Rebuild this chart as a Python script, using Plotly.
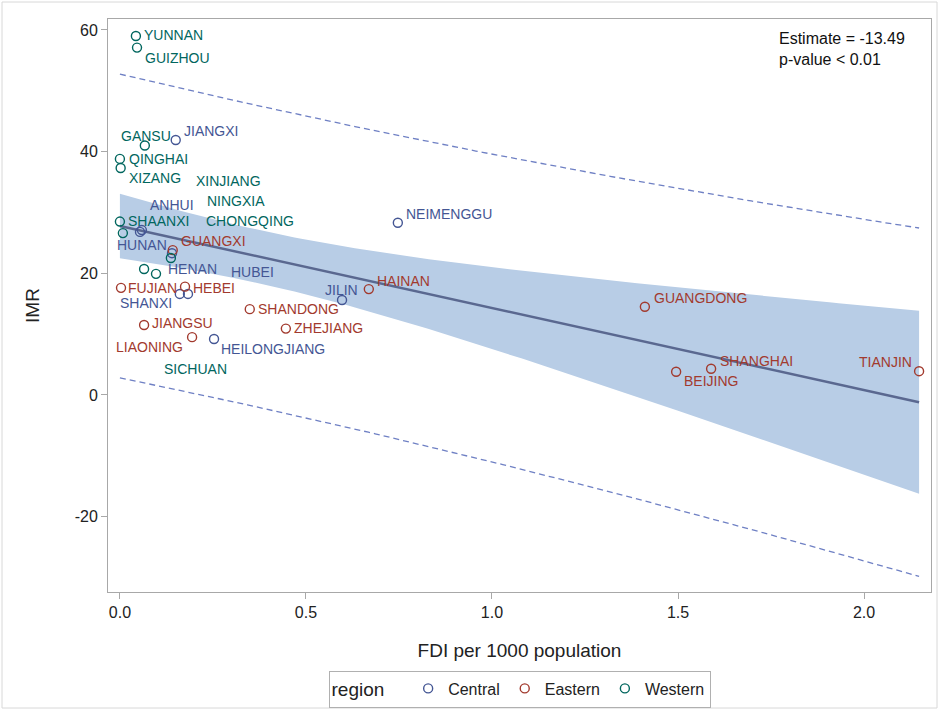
import numpy as np
import plotly.graph_objects as go

# Infant mortality rate vs. foreign direct investment, Chinese provinces
central_names = ["JIANGXI", "ANHUI", "HUNAN", "HENAN", "HUBEI", "SHANXI",
                 "HEILONGJIANG", "JILIN", "NEIMENGGU"]
central_fdi = [0.150, 0.059, 0.054, 0.140, 0.183, 0.161, 0.253, 0.597, 0.747]
central_imr = [41.9, 27.1, 26.8, 23.3, 16.6, 16.6, 9.2, 15.6, 28.3]

eastern_names = ["GUANGXI", "FUJIAN", "HEBEI", "JIANGSU", "LIAONING", "SHANDONG",
                 "ZHEJIANG", "HAINAN", "GUANGDONG", "BEIJING", "SHANGHAI", "TIANJIN"]
eastern_fdi = [0.142, 0.003, 0.175, 0.065, 0.194, 0.349,
               0.446, 0.669, 1.411, 1.495, 1.589, 2.148]
eastern_imr = [23.8, 17.6, 17.8, 11.5, 9.5, 14.1,
               10.9, 17.4, 14.5, 3.8, 4.3, 3.9]

western_names = ["YUNNAN", "GUIZHOU", "GANSU", "QINGHAI", "XIZANG", "SHAANXI",
                 "XINJIANG", "CHONGQING", "NINGXIA", "SICHUAN"]
western_fdi = [0.043, 0.046, 0.067, 0.000, 0.002, 0.000,
               0.008, 0.137, 0.065, 0.097]
western_imr = [59.0, 57.1, 41.0, 38.8, 37.3, 28.5,
               26.6, 22.5, 20.7, 19.9]

x_ticks = [0.0, 0.5, 1.0, 1.5, 2.0]
x_tick_labels = ["0.0", "0.5", "1.0", "1.5", "2.0"]
y_ticks = [-20, 0, 20, 40, 60]
y_tick_labels = ["-20", "0", "20", "40", "60"]

slope_estimate = -13.49
p_value_text = "p-value &lt; 0.01"
t_crit = 2.045  # t(0.975, df=29)

# Label offsets (pixels) relative to each marker: (xshift, yshift)
label_offsets = {
    "YUNNAN": (6, 1), "GUIZHOU": (6, -10), "GANSU": (-26, 10), "JIANGXI": (6, 9),
    "QINGHAI": (7, 0), "XIZANG": (6, -10), "XINJIANG": (71, 52), "ANHUI": (6, 25),
    "NINGXIA": (61, 68), "SHAANXI": (6, 1), "CHONGQING": (33, 37), "HUNAN": (-25, -13),
    "GUANGXI": (6, 9), "HENAN": (-6, -16), "HUBEI": (41, 22), "FUJIAN": (5, 0),
    "HEBEI": (6, -1), "SHANXI": (-62, -9), "JIANGSU": (6, 2), "LIAONING": (-78, -10),
    "HEILONGJIANG": (5, -10), "SICHUAN": (6, -95), "SHANDONG": (6, 0),
    "ZHEJIANG": (6, 1), "JILIN": (-19, 10), "HAINAN": (6, 8), "NEIMENGGU": (6, 9),
    "GUANGDONG": (7, 9), "SHANGHAI": (7, 8), "BEIJING": (6, -9), "TIANJIN": (-62, 9),
}

groups = [
    ("Central", central_names, central_fdi, central_imr, "#445694"),
    ("Eastern", eastern_names, eastern_fdi, eastern_imr, "#A23A2E"),
    ("Western", western_names, western_fdi, western_imr, "#01665E"),
]

# Regression line with confidence and prediction limits
x_all = np.array(central_fdi + eastern_fdi + western_fdi)
y_all = np.array(central_imr + eastern_imr + western_imr)
n = len(x_all)
xbar, ybar = x_all.mean(), y_all.mean()
intercept = ybar - slope_estimate * xbar
resid = y_all - (intercept + slope_estimate * x_all)
s = np.sqrt((resid ** 2).sum() / (n - 2))
sxx = ((x_all - xbar) ** 2).sum()

xg = np.linspace(x_all.min(), x_all.max(), 120)
yg = intercept + slope_estimate * xg
se_mean = s * np.sqrt(1 / n + (xg - xbar) ** 2 / sxx)
se_pred = s * np.sqrt(1 + 1 / n + (xg - xbar) ** 2 / sxx)

fig = go.Figure()

fig.add_trace(go.Scatter(
    x=np.concatenate([xg, xg[::-1]]),
    y=np.concatenate([yg + t_crit * se_mean, (yg - t_crit * se_mean)[::-1]]),
    fill="toself", fillcolor="#b8cde6", line=dict(width=0),
    mode="lines", showlegend=False, hoverinfo="skip"))

for sign in (1, -1):
    fig.add_trace(go.Scatter(
        x=xg, y=yg + sign * t_crit * se_pred, mode="lines",
        line=dict(color="#6f80c4", width=1.3, dash="6px,4px"),
        showlegend=False, hoverinfo="skip"))

fig.add_trace(go.Scatter(
    x=xg, y=yg, mode="lines", line=dict(color="#5a6890", width=2.5),
    showlegend=False, hoverinfo="skip"))

annotations = []
for region, names, fdi, imr, color in groups:
    fig.add_trace(go.Scatter(
        x=fdi, y=imr, mode="markers", name=region, text=names,
        marker=dict(symbol="circle-open", size=9, color=color,
                    line=dict(width=1.4, color=color))))
    for nm, xv, yv in zip(names, fdi, imr):
        dx, dy = label_offsets[nm]
        annotations.append(dict(
            x=xv, y=yv, xref="x", yref="y", text=nm, showarrow=False,
            xanchor="left", yanchor="middle", xshift=dx, yshift=dy,
            font=dict(family="Liberation Sans, Arial", size=14, color=color)))

annotations.append(dict(
    x=0.813, y=0.985, xref="paper", yref="paper", xanchor="left", yanchor="top",
    align="left", showarrow=False,
    text=f"Estimate = {slope_estimate:.2f}<br>{p_value_text}",
    font=dict(family="Liberation Sans, Arial", size=16, color="#111111")))

ml, mr, mt, mb = 108, 8, 19, 118
W, H = 939, 710
pw, ph = W - ml - mr, H - mt - mb

fig.update_layout(
    width=W, height=H,
    margin=dict(l=ml, r=mr, t=mt, b=mb, autoexpand=False),
    paper_bgcolor="white", plot_bgcolor="white",
    font=dict(family="Liberation Sans, Arial", size=16, color="#222222"),
    annotations=annotations,
    legend=dict(
        orientation="h", x=0.5, xanchor="center", y=-0.137, yanchor="top",
        title=dict(text="region   ", side="left"),
        bordercolor="#b0b0b0", borderwidth=1, font=dict(size=16),
        itemwidth=30, tracegroupgap=0),
    shapes=[dict(type="rect", xref="paper", yref="paper",
                 x0=(2 - ml) / pw, x1=(W - 2 - ml) / pw,
                 y0=-(H - 2 - mt - ph) / ph, y1=1 + (mt - 2) / ph,
                 line=dict(color="#d8d8d8", width=1))],
)

fig.update_xaxes(
    range=[-0.032, 2.18], tickvals=x_ticks, ticktext=x_tick_labels,
    showgrid=False, zeroline=False, showline=True, mirror=True,
    linecolor="#a8a8a8", linewidth=1, ticks="outside", ticklen=6,
    tickcolor="#a8a8a8",
    title=dict(text="FDI per 1000 population", standoff=23))
fig.update_yaxes(
    range=[-32.4, 61.8], tickvals=y_ticks, ticktext=y_tick_labels,
    showgrid=False, zeroline=False, showline=True, mirror=True,
    linecolor="#a8a8a8", linewidth=1, ticks="outside", ticklen=6,
    tickcolor="#a8a8a8",
    title=dict(text="IMR", standoff=30))

fig.write_html("out.html")
